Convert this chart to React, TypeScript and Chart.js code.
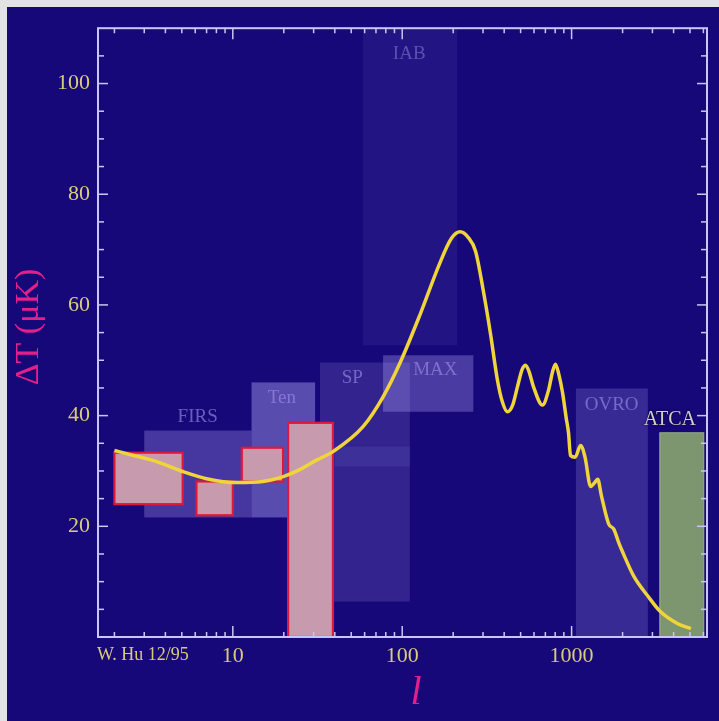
import React, { useEffect, useRef } from 'react';
import { Chart, registerables } from 'chart.js';
Chart.register(...registerables);

// ---- theoretical curve (multipole l, ΔT in μK) ----
const curveL = [2, 2.6, 3.55, 5.06, 7.0, 10.6, 15.0, 19.0, 25, 31.4, 39, 58.7, 77.1, 97, 128, 167, 195, 220, 245, 271, 301, 332, 365, 390, 418, 450, 479, 510, 535, 560, 596, 673, 731, 770, 803, 840, 885, 930, 959, 985, 1050, 1130, 1200, 1295, 1360, 1426, 1500, 1657, 1774, 1900, 2004, 2327, 2818, 3365, 4234, 5060];
const curveT = [33.7, 32.8, 31.7, 29.9, 28.6, 27.9, 28.1, 28.8, 30.3, 32.0, 33.5, 38.0, 43.4, 49.5, 58.4, 67.6, 72.0, 73.2, 72.2, 69.7, 62.6, 54.8, 46.4, 42.5, 40.7, 42.0, 45.2, 48.3, 49.1, 48.0, 45.2, 41.9, 44.6, 47.8, 49.3, 47.5, 44.1, 39.5, 36.9, 32.8, 32.5, 34.6, 32.5, 27.2, 27.8, 28.5, 25.5, 20.4, 19.5, 17.0, 15.3, 11.0, 7.4, 4.5, 2.4, 1.5];

// ---- experiment windows (lavender) ----
const expNames = ['IAB', 'SP', '', 'MAX', 'FIRS', 'Ten', 'OVRO'];
const expLmin = [58.7, 32.7, 40, 77.1, 3.0, 12.9, 1060];
const expLmax = [211, 111, 111, 263, 12.9, 30.6, 2818];
const expTmin = [52.7, 6.4, 30.8, 40.7, 21.6, 21.6, 0];
const expTmax = [110, 49.6, 34.4, 50.9, 37.3, 46.0, 44.9];
const expLabelL = [110, 50.7, 0, 157, 6.2, 19.5, 1724];
const expLabelT = [105.3, 46.8, 0, 48.2, 39.8, 43.2, 41.9];

// ---- COBE-like detections (red-bordered) ----
const detLmin = [2.0, 6.1, 11.3, 21.2];
const detLmax = [5.06, 10, 19.8, 39.0];
const detTmin = [24.0, 22.0, 28.1, 0];
const detTmax = [33.3, 28.1, 34.2, 38.7];

// ---- ATCA limit ----
const atcaL = [3317, 6030];
const atcaT = [0, 36.9];
const atcaLabel = { l: 3800, t: 39.2, text: 'ATCA' };

// ---- axis labels ----
const xTickLabels = [10, 100, 1000];
const yTickLabels = [20, 40, 60, 80, 100];

// styles (kept apart from data)
const BG = '#17087a';
const AXIS = '#cac6f4';
const TICKTXT = '#d8cc78';
const MAGENTA = '#e2208c';
const SERIF = '"Liberation Serif", "Times New Roman", serif';
const expAlpha = [0.07, 0.16, 0.09, 0.3, 0.28, 0.4, 0.2];

export default function App() {
  const ref = useRef<HTMLCanvasElement>(null);

  useEffect(() => {
    const canvas = ref.current!;

    const overlay = {
      id: 'overlay',
      beforeDatasetsDraw(chart: any) {
        const { ctx, chartArea: ca } = chart;
        const x = chart.scales.x;
        const y = chart.scales.y;
        const px = (v: number) => x.getPixelForValue(v);
        const py = (v: number) => y.getPixelForValue(v);
        ctx.save();
        ctx.beginPath();
        ctx.rect(ca.left, ca.top, ca.right - ca.left, ca.bottom - ca.top);
        ctx.clip();
        for (let i = 0; i < expNames.length; i++) {
          const x1 = px(expLmin[i]), x2 = px(expLmax[i]);
          const y1 = py(expTmax[i]), y2 = py(expTmin[i]);
          ctx.fillStyle = `rgba(190,180,255,${expAlpha[i]})`;
          ctx.fillRect(x1, y1, x2 - x1, y2 - y1);
        }
        ctx.font = `19px ${SERIF}`;
        ctx.textAlign = 'center';
        ctx.textBaseline = 'middle';
        for (let i = 0; i < expNames.length; i++) {
          if (!expNames[i]) continue;
          ctx.fillStyle = i === 0 ? 'rgba(150,140,220,0.5)' : 'rgba(160,150,235,0.6)';
          ctx.fillText(expNames[i], px(expLabelL[i]), py(expLabelT[i]));
        }
        for (let i = 0; i < detLmin.length; i++) {
          const x1 = px(detLmin[i]), x2 = px(detLmax[i]);
          const y1 = py(detTmax[i]), y2 = py(detTmin[i]);
          ctx.fillStyle = '#c79aae';
          ctx.fillRect(x1, y1, x2 - x1, y2 - y1);
          ctx.strokeStyle = '#e01838';
          ctx.lineWidth = 2.2;
          ctx.strokeRect(x1, y1, x2 - x1, y2 - y1);
        }
        {
          const x1 = px(atcaL[0]), x2 = px(atcaL[1]);
          const y1 = py(atcaT[1]), y2 = py(atcaT[0]);
          ctx.fillStyle = '#7e9670';
          ctx.fillRect(x1, y1, x2 - x1, y2 - y1);
          ctx.strokeStyle = '#9cb08a';
          ctx.lineWidth = 1;
          ctx.strokeRect(x1, y1, x2 - x1, y2 - y1);
        }
        ctx.restore();
      },
      afterDatasetsDraw(chart: any) {
        const { ctx, chartArea: ca } = chart;
        const x = chart.scales.x;
        const y = chart.scales.y;
        ctx.save();
        ctx.font = `20px ${SERIF}`;
        ctx.textAlign = 'center';
        ctx.textBaseline = 'middle';
        ctx.shadowColor = 'rgba(0,0,20,0.9)';
        ctx.shadowBlur = 3;
        ctx.fillStyle = '#cfcfc8';
        ctx.fillText(atcaLabel.text, x.getPixelForValue(atcaLabel.l), y.getPixelForValue(atcaLabel.t));
        ctx.shadowBlur = 0;
        ctx.shadowColor = 'transparent';
        ctx.strokeStyle = AXIS;
        ctx.lineWidth = 1.5;
        const line = (a: number, b: number, c: number, d: number) => {
          ctx.beginPath(); ctx.moveTo(a, b); ctx.lineTo(c, d); ctx.stroke();
        };
        for (let e = 0; e < 4; e++) {
          for (let m = 1; m < 10; m++) {
            const v = m * Math.pow(10, e);
            if (v < x.min || v > x.max) continue;
            const p = x.getPixelForValue(v);
            const len = m === 1 ? 11 : 5;
            line(p, ca.top, p, ca.top + len);
            line(p, ca.bottom, p, ca.bottom - len);
          }
        }
        for (let v = 5; v < 110; v += 5) {
          const p = y.getPixelForValue(v);
          const len = v % 20 === 0 ? 10 : 6;
          line(ca.left, p, ca.left + len, p);
          line(ca.right, p, ca.right - len, p);
        }
        ctx.lineWidth = 2;
        ctx.strokeRect(ca.left, ca.top, ca.right - ca.left, ca.bottom - ca.top);
        ctx.fillStyle = TICKTXT;
        ctx.font = `18px ${SERIF}`;
        ctx.textAlign = 'left';
        ctx.textBaseline = 'middle';
        ctx.fillText('W. Hu 12/95', 90, 648);
        ctx.fillStyle = MAGENTA;
        ctx.font = `italic 40px ${SERIF}`;
        ctx.textAlign = 'center';
        ctx.fillText('l', 409, 686);
        ctx.translate(22, 320);
        ctx.rotate(-Math.PI / 2);
        ctx.font = `34px ${SERIF}`;
        ctx.fillText('ΔT (μK)', 0, 0);
        ctx.restore();
      },
    };

    const chart = new Chart(canvas, {
      type: 'line',
      data: {
        datasets: [
          {
            data: curveL.map((l, i) => ({ x: l, y: curveT[i] })),
            borderColor: '#efd43a',
            borderWidth: 3.5,
            pointRadius: 0,
            fill: false,
            cubicInterpolationMode: 'monotone',
          },
        ],
      },
      options: {
        animation: false,
        responsive: false,
        maintainAspectRatio: false,
        devicePixelRatio: 1,
        layout: { padding: { left: 0, top: 20, right: 12, bottom: 0 } },
        plugins: { legend: { display: false }, tooltip: { enabled: false } },
        scales: {
          x: {
            type: 'logarithmic',
            min: 1.6,
            max: 6300,
            grid: { display: false, drawTicks: false },
            border: { display: false },
            ticks: {
              autoSkip: false,
              maxRotation: 0,
              padding: 6,
              color: TICKTXT,
              font: { family: SERIF, size: 22 },
              callback: (v: any) => (xTickLabels.includes(Number(v)) ? String(v) : ''),
            },
            afterFit: (s: any) => { s.height = 84; },
          },
          y: {
            type: 'linear',
            min: 0,
            max: 110,
            grid: { display: false, drawTicks: false },
            border: { display: false },
            ticks: {
              stepSize: 20,
              padding: 8,
              color: TICKTXT,
              font: { family: SERIF, size: 22 },
              callback: (v: any) => (yTickLabels.includes(Number(v)) ? String(v) : ''),
            },
            afterFit: (s: any) => { s.width = 91; },
          },
        },
      },
      plugins: [overlay],
    } as any);
    return () => chart.destroy();
  }, []);

  return (
    <div style={{ position: 'fixed', left: 0, top: 0, width: 719, height: 721, background: '#e2e2e2', overflow: 'hidden' }}>
      <div style={{ position: 'absolute', left: 7, top: 7, width: 712, height: 714, background: BG }}>
        <canvas ref={ref} width={712} height={714} style={{ display: 'block', width: 712, height: 714 }} />
      </div>
    </div>
  );
}
